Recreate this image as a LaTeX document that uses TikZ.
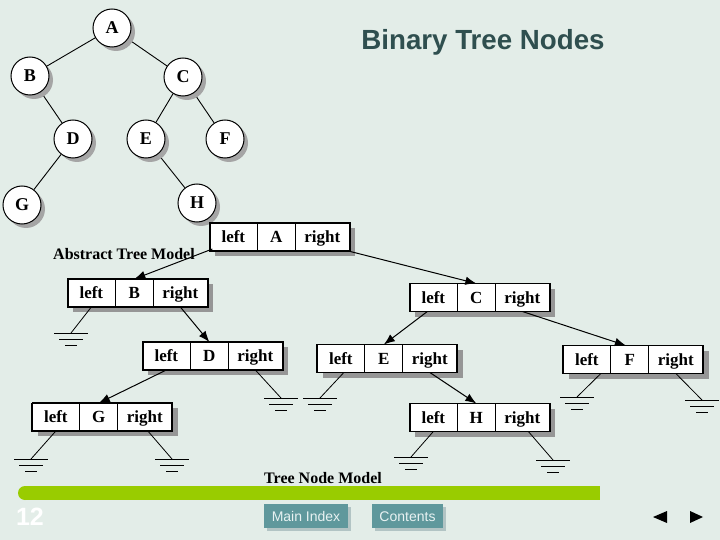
\documentclass[tikz,border=0pt]{standalone}
\usepackage{fontspec}
\setmainfont{Liberation Serif}
\newfontfamily\sansfam{Liberation Sans}
\usetikzlibrary{arrows.meta,shadows,calc}
\definecolor{bgcol}{RGB}{227,237,232}
\definecolor{titlecol}{RGB}{47,79,79}
\definecolor{barcol}{RGB}{153,204,0}
\definecolor{btncol}{RGB}{95,152,156}
\definecolor{btnshadow}{RGB}{178,196,196}
\definecolor{btntext}{RGB}{232,242,242}
\definecolor{shadowgray}{RGB}{150,150,150}
\definecolor{circshadow}{RGB}{165,165,165}
\pgfdeclarelayer{bglayer}
\pgfdeclarelayer{edgelayer}
\pgfsetlayers{bglayer,edgelayer,main}
\tikzset{
  treenode/.style={circle, draw, line width=1pt, fill=white, minimum size=38pt, inner sep=0pt,
    font=\fontsize{18}{18}\selectfont\bfseries, text height=12pt, text depth=0pt,
    drop shadow={shadow xshift=4pt, shadow yshift=-4pt, fill=circshadow, opacity=1}},
  treeedge/.style={line width=0.9pt},
  recbox/.style={draw, line width=1.3pt, fill=white, minimum width=140pt, minimum height=28pt, inner sep=0pt,
    drop shadow={shadow xshift=5pt, shadow yshift=-5pt, fill=shadowgray, opacity=1}},
  cell/.style={draw, line width=0.8pt, minimum height=28pt, inner sep=0pt, outer sep=0pt, anchor=west,
    font=\fontsize{17}{17}\selectfont\bfseries, text height=13pt, text depth=1.8pt},
  ptr/.style={line width=1pt, -{Latex[length=11pt,width=8.5pt]}},
  nullline/.style={line width=0.8pt},
  ground/.pic={\draw[line width=0.9pt] (-17,0)--(17,0) (-12,6)--(12,6) (-6,12)--(6,12);},
  modelcap/.style={font=\fontsize{16}{16}\selectfont\bfseries, inner sep=0pt},
  btn/.style={fill=btncol, text=btntext, minimum height=24pt, inner sep=0pt,
    font=\sansfam\fontsize{14}{14}\selectfont, text height=10pt, text depth=0pt,
    drop shadow={shadow xshift=3pt, shadow yshift=-3pt, fill=btnshadow, opacity=1}}
}
\newcommand\treerec[4]{%
  \node[recbox] (#1) at (#2,#3) {};
  \node[cell, minimum width=48pt] (#1-l) at (#1.west) {left};
  \node[cell, minimum width=38pt] (#1-m) at (#1-l.east) {#4};
  \node[cell, minimum width=54pt] (#1-r) at (#1-m.east) {right};
}
\begin{document}
\begin{tikzpicture}[x=1pt,y=-1pt]
\begin{pgfonlayer}{bglayer}
\fill[bgcol] (0,0) rectangle (720,540);
\end{pgfonlayer}
\useasboundingbox (0,0) rectangle (720,540);

% title
\node[font=\sansfam\bfseries\fontsize{27.7}{28}\selectfont, text=titlecol] (title) at (483,42) {Binary Tree Nodes};

% abstract tree
\node[treenode] (A) at (112,28) {A};
\node[treenode] (B) at (30,76) {B};
\node[treenode] (C) at (183,77) {C};
\node[treenode] (D) at (73,139) {D};
\node[treenode] (E) at (146,139) {E};
\node[treenode] (F) at (225,139) {F};
\node[treenode] (G) at (22,205) {G};
\node[treenode] (H) at (197,203) {H};
\begin{pgfonlayer}{edgelayer}
\draw[treeedge] (A) -- (B);
\draw[treeedge] (A) -- (C);
\draw[treeedge] (B) -- (D);
\draw[treeedge] (D) -- (G);
\draw[treeedge] (C) -- (E);
\draw[treeedge] (C) -- (F);
\draw[treeedge] (E) -- (H);
\end{pgfonlayer}

\node[modelcap] (abscap) at (124,254) {Abstract Tree Model};

% tree node model
\treerec{RA}{280}{237}{A}
\treerec{RB}{138}{293}{B}
\treerec{RC}{480}{297.5}{C}
\treerec{RD}{213}{356}{D}
\treerec{RE}{387.5}{358.5}{E}
\treerec{RF}{633.5}{359.5}{F}
\treerec{RG}{102.5}{417}{G}
\treerec{RH}{480}{417.5}{H}

\draw[ptr] ([xshift=3pt,yshift=2pt]RA-l.south west) -- (RB-m.north);
\draw[ptr] ([xshift=-1pt]RA-r.south east) -- (RC-m.north);
\draw[ptr] (RB-r.south) -- (RD-m.north);
\draw[ptr] ([xshift=-6pt]RC-l.south) -- (RE-m.north);
\draw[ptr] (RC-r.south) -- ([xshift=-4pt]RF-m.north);
\draw[ptr] (RD-l.south) -- (RG-m.north);
\draw[ptr] (RE-r.south) -- (RH-m.north);

% null pointers
\coordinate (gBl) at (71,333);
\coordinate (gDr) at (281,398);
\coordinate (gEl) at (320,398);
\coordinate (gFl) at (577,397);
\coordinate (gFr) at (702,400);
\coordinate (gGl) at (31,459);
\coordinate (gGr) at (172,459);
\coordinate (gHl) at (411,457);
\coordinate (gHr) at (553,460);
\draw[nullline] (RB-l.south) -- (gBl);
\draw[nullline] (RD-r.south) -- (gDr);
\draw[nullline] ([xshift=3pt]RE-l.south) -- (gEl);
\draw[nullline] ([xshift=14pt]RF-l.south) -- (gFl);
\draw[nullline] (RF-r.south) -- (gFr);
\draw[nullline] (RG-l.south) -- (gGl);
\draw[nullline] ([xshift=3pt]RG-r.south) -- (gGr);
\draw[nullline] (RH-l.south) -- (gHl);
\draw[nullline] ([xshift=6pt]RH-r.south) -- (gHr);
\foreach \g in {gBl,gDr,gEl,gFl,gFr,gGl,gGr,gHl,gHr} {\pic at (\g) {ground};}

\node[modelcap] (nodecap) at (323,478) {Tree Node Model};

% footer bar
\fill[barcol] (25,486) rectangle (600,500);
\fill[barcol] (25,493) circle (7pt);

\node[text=white, font=\sansfam\bfseries\fontsize{25}{25}\selectfont, inner sep=0pt] (pagenum) at (30,517) {12};
\node[btn, minimum width=84pt] (mainidx) at (306,516) {Main Index};
\node[btn, minimum width=71pt] (contents) at (407.5,516) {Contents};
\fill (653,517) -- (667,511) -- (667,523) -- cycle;
\fill (703,517) -- (690,511) -- (690,523) -- cycle;
\end{tikzpicture}
\end{document}
